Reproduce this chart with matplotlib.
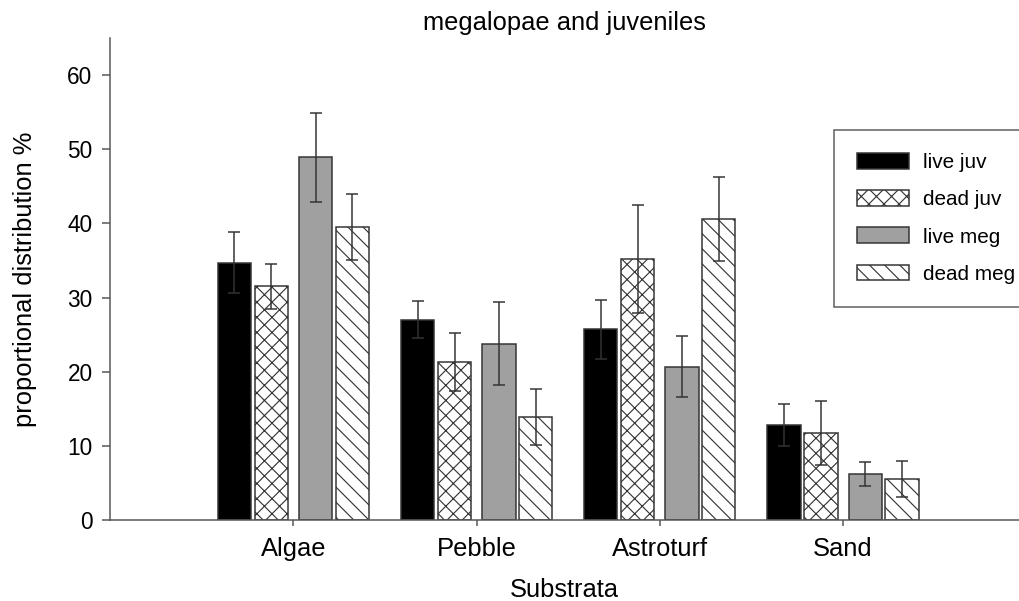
import matplotlib
matplotlib.use("Agg")
import matplotlib.pyplot as plt
import numpy as np

categories = ["Algae", "Pebble", "Astroturf", "Sand"]
series = ["live juv", "dead juv", "live meg", "dead meg"]
live_juv = [34.7, 27.0, 25.7, 12.8]
dead_juv = [31.5, 21.3, 35.2, 11.7]
live_meg = [48.9, 23.8, 20.7, 6.2]
dead_meg = [39.5, 13.9, 40.6, 5.5]
err_live_juv = [4.15, 2.5, 3.95, 2.85]
err_dead_juv = [3.0, 3.9, 7.3, 4.35]
err_live_meg = [5.95, 5.55, 4.1, 1.6]
err_dead_meg = [4.5, 3.8, 5.65, 2.45]

values = [live_juv, dead_juv, live_meg, dead_meg]
errors = [err_live_juv, err_dead_juv, err_live_meg, err_dead_meg]
facecolors = ["black", "white", "#a0a0a0", "white"]
hatches = [None, "xxx", None, "\\\\\\"]
offsets = [-0.322, -0.12, 0.122, 0.322]
width = 0.182

plt.rcParams["font.family"] = ["Liberation Sans", "DejaVu Sans"]
plt.rcParams["hatch.linewidth"] = 0.6

DPI = 136
fig = plt.figure(figsize=(1019 / DPI, 601 / DPI), dpi=DPI)
ax = fig.add_axes([110 / 1019, 1 - 520 / 601, 1 - 110 / 1019, (520 - 38) / 601])

x = np.arange(len(categories))
edge = "#333333"
for i, name in enumerate(series):
    ax.bar(x + offsets[i], values[i], width=width, color=facecolors[i],
           edgecolor=edge, linewidth=0.8, hatch=hatches[i], label=name, zorder=2)
    ax.errorbar(x + offsets[i], values[i], yerr=errors[i], fmt="none",
                ecolor="#333333", elinewidth=0.8, capsize=3.2, capthick=0.8, zorder=3)

ax.set_xlim(-1.0, 3.96)
ax.set_ylim(0, 65)
ax.set_yticks([0, 10, 20, 30, 40, 50, 60])
ax.set_xticks(x)
ax.set_xticklabels(categories, fontsize=13.5)
ax.tick_params(axis="y", labelsize=12, length=4.2, width=0.8, color="#555555", pad=5)
ax.tick_params(axis="x", length=3.2, width=0.8, color="#555555", pad=6)

for s in ["top", "right"]:
    ax.spines[s].set_visible(False)
for s in ["left", "bottom"]:
    ax.spines[s].set_color("#555555")
    ax.spines[s].set_linewidth(0.8)

ax.set_title("megalopae and juveniles", fontsize=13.5, pad=4)
ax.set_xlabel("Substrata", fontsize=13.5, labelpad=9)
ax.set_ylabel("proportional distribution %", fontsize=13.5, labelpad=16)

leg = ax.legend(loc="upper left", bbox_to_anchor=(834 / 1019, 1 - 130 / 601),
                bbox_transform=fig.transFigure, fontsize=11, frameon=True,
                fancybox=False, handlelength=2.5, handleheight=0.8,
                handletextpad=0.7, labelspacing=0.87, borderpad=1.1,
                borderaxespad=0)
leg.get_frame().set_edgecolor("#333333")
leg.get_frame().set_linewidth(0.8)

fig.savefig("out.png", dpi=DPI)
